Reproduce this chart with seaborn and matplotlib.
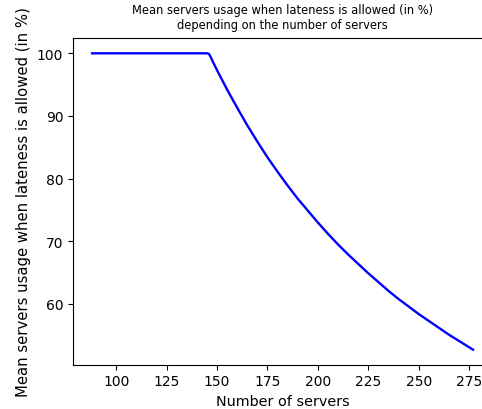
import matplotlib
matplotlib.use("Agg")
import matplotlib.pyplot as plt
import seaborn as sns
import pandas as pd

servers = [88, 95, 100, 110, 120, 130, 140, 144, 145, 146, 147, 148, 150, 155, 160,
           165, 170, 175, 180, 185, 190, 195, 200, 205, 210, 215, 220, 225, 230,
           235, 240, 245, 250, 255, 260, 265, 270, 275, 277]
usage = [100.0, 100.0, 100.0, 100.0, 100.0, 100.0, 100.0, 100.0, 100.0, 99.9, 99.3, 98.6,
         97.3, 94.2, 91.3, 88.5, 85.9, 83.4, 81.1, 78.9, 76.8, 74.9, 73.0, 71.2,
         69.5, 67.9, 66.4, 64.9, 63.5, 62.1, 60.8, 59.6, 58.4, 57.3, 56.2, 55.1,
         54.1, 53.1, 52.7]

df = pd.DataFrame({"servers": servers, "usage": usage})

fig = plt.figure(figsize=(4.82, 4.10), dpi=100)
ax = fig.add_axes([0.1515, 0.1085, 1.021 - 0.1515, 0.9037 - 0.1085])
sns.lineplot(data=df, x="servers", y="usage", ax=ax, color="#0000ff", linewidth=1.7)
ax.set_title("Mean servers usage when lateness is allowed (in %)\ndepending on the number of servers",
             fontsize=8.3, pad=7.5)
ax.set_xlabel("Number of servers", fontsize=10.4)
ax.set_ylabel("Mean servers usage when lateness is allowed (in %)", fontsize=10.7)
ax.set_xticks([100, 125, 150, 175, 200, 225, 250, 275])
ax.set_yticks([60, 70, 80, 90, 100])
fig.savefig("out.png", dpi=100)
